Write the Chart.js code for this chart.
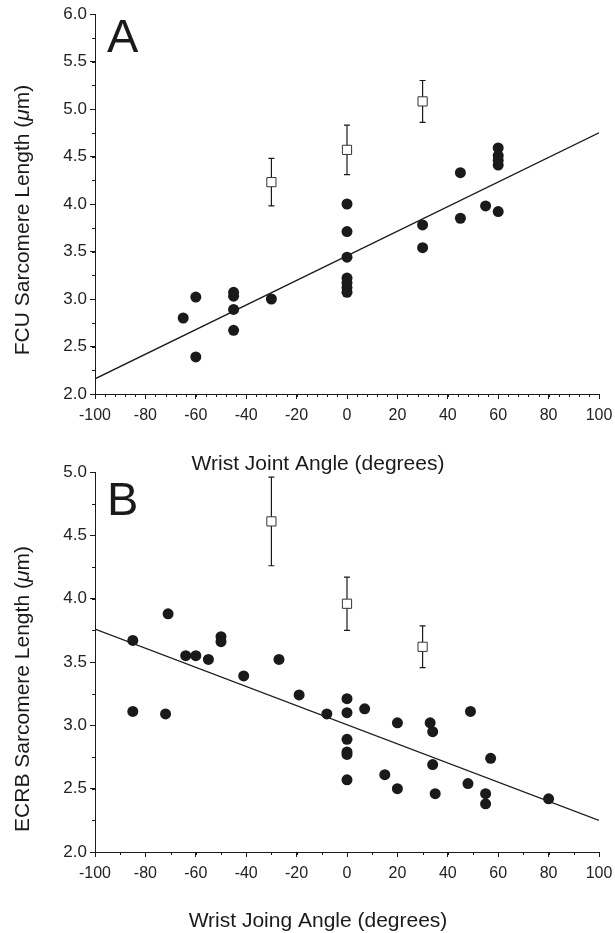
<!DOCTYPE html>
<html>
<head>
<meta charset="utf-8">
<script src="https://cdn.jsdelivr.net/npm/chart.js@4.4.1/dist/chart.umd.min.js"></script>
<style>
	html, body { margin: 0; padding: 0; background: #fff; }
	body { width: 615px; height: 933px; position: relative; overflow: hidden; }
	canvas { position: absolute; left: 0; }
	#panelA { top: 0; }
	#panelB { top: 445px; }
</style>
</head>
<body>
<canvas id="panelA" width="615" height="480"></canvas>
<canvas id="panelB" width="615" height="488"></canvas>
<script>
// Panel A: FCU sarcomere length vs wrist angle
const fcuAngle = [-65, -60, -60, -45, -45, -45, -45, -30, 0, 0, 0, 0, 0, 0, 0, 30, 30, 45, 45, 55, 60, 60, 60, 60, 60]
const fcuLength = [2.80, 3.02, 2.39, 3.07, 3.03, 2.89, 2.67, 3.00, 4.00, 3.71, 3.44, 3.22, 3.17, 3.12, 3.07, 3.78, 3.54, 4.33, 3.85, 3.98, 3.92, 4.59, 4.51, 4.46, 4.41]
const fcuMeanAngle = [-30, 0, 30]
const fcuMean = [4.23, 4.57, 5.08]
const fcuSD = [0.25, 0.26, 0.22]
const fcuFit = [2.16, 4.75]

// Panel B: ECRB sarcomere length vs wrist angle
const ecrbAngle = [-85, -85, -71, -72, -64, -60, -55, -50, -50, -41, -27, -19, -8, 0, 0, 0, 0, 0, 0, 7, 15, 20, 20, 33, 34, 34, 35, 48, 49, 55, 55, 57, 80]
const ecrbLength = [3.67, 3.11, 3.88, 3.09, 3.55, 3.55, 3.52, 3.70, 3.66, 3.39, 3.52, 3.24, 3.09, 3.21, 3.10, 2.89, 2.79, 2.77, 2.57, 3.13, 2.61, 3.02, 2.50, 3.02, 2.95, 2.69, 2.46, 2.54, 3.11, 2.46, 2.38, 2.74, 2.42]
const ecrbMeanAngle = [-30, 0, 30]
const ecrbMean = [4.61, 3.96, 3.62]
const ecrbSD = [0.35, 0.21, 0.165]
const ecrbFit = [3.76, 2.25]

const fitAngle = [-100, 100]
const angleTicks = [-100, -80, -60, -40, -20, 0, 20, 40, 60, 80, 100]
const fcuTicks = [2.0, 2.5, 3.0, 3.5, 4.0, 4.5, 5.0, 5.5, 6.0]
const ecrbTicks = [2.0, 2.5, 3.0, 3.5, 4.0, 4.5, 5.0]

const family = '"Liberation Sans", Arial, Helvetica, sans-serif'
const ink = '#1a1a1a'

Chart.defaults.font.family = family
Chart.defaults.color = ink

const toPoints = (xs, ys) => xs.map((x, i) => ({ x, y: ys[i] }))

// error bars, minor ticks, axis titles and panel letter
const panelPlugin = (cfg) => ({
	id: 'panelExtras',
	beforeDatasetsDraw(chart) {
		const { ctx, scales: { x, y } } = chart
		ctx.save()
		ctx.strokeStyle = ink
		ctx.lineWidth = 1.2
		cfg.meanAngle.forEach((angle, i) => {
			const px = x.getPixelForValue(angle)
			const top = y.getPixelForValue(cfg.mean[i] + cfg.sd[i])
			const bottom = y.getPixelForValue(cfg.mean[i] - cfg.sd[i])
			ctx.beginPath()
			ctx.moveTo(px, top)
			ctx.lineTo(px, bottom)
			ctx.moveTo(px - 3, top)
			ctx.lineTo(px + 3, top)
			ctx.moveTo(px - 3, bottom)
			ctx.lineTo(px + 3, bottom)
			ctx.stroke()
		})
		ctx.restore()
	},
	afterDraw(chart) {
		const { ctx, chartArea, scales: { x, y } } = chart
		ctx.save()
		ctx.strokeStyle = ink
		ctx.lineWidth = 1

		// minor ticks
		ctx.beginPath()
		for (let v = x.min; v <= x.max; v += cfg.xMinor) {
			const px = Math.round(x.getPixelForValue(v)) + 0.5
			ctx.moveTo(px, chartArea.bottom)
			ctx.lineTo(px, chartArea.bottom + 3)
		}
		for (let v = y.min; v <= y.max; v += 0.25) {
			const py = Math.round(y.getPixelForValue(v)) + 0.5
			ctx.moveTo(chartArea.left, py)
			ctx.lineTo(chartArea.left - 3, py)
		}
		ctx.stroke()

		ctx.fillStyle = ink

		// panel letter
		ctx.font = `47px ${family}`
		ctx.textAlign = 'left'
		ctx.textBaseline = 'alphabetic'
		ctx.fillText(cfg.letter, cfg.letterPos[0], cfg.letterPos[1])

		// x axis title
		ctx.font = `21px ${family}`
		ctx.textAlign = 'center'
		ctx.fillText(cfg.xTitle, cfg.xTitlePos[0], cfg.xTitlePos[1])

		// y axis title, with an italic mu
		const parts = [
			[cfg.yTitle + ' (', `21px ${family}`],
			['\u03bc', `italic 21px ${family}`],
			['m)', `21px ${family}`],
		]
		const widths = parts.map(([text, font]) => {
			ctx.font = font
			return ctx.measureText(text).width
		})
		const total = widths.reduce((a, b) => a + b, 0)
		ctx.translate(cfg.yTitlePos[0], cfg.yTitlePos[1])
		ctx.rotate(-Math.PI / 2)
		ctx.textAlign = 'left'
		let offset = -total / 2
		parts.forEach(([text, font], i) => {
			ctx.font = font
			ctx.fillText(text, offset, 0)
			offset += widths[i]
		})
		ctx.restore()
	},
})

const makePanel = (canvasId, cfg) => new Chart(document.getElementById(canvasId), {
	type: 'scatter',
	data: {
		datasets: [
			{
				data: toPoints(cfg.angle, cfg.length),
				pointRadius: 5.5,
				pointBackgroundColor: ink,
				pointBorderWidth: 0,
				order: 1,
			},
			{
				data: toPoints(cfg.meanAngle, cfg.mean),
				pointStyle: 'rect',
				pointRadius: 6.5,
				pointBackgroundColor: '#fff',
				pointBorderColor: '#333',
				pointBorderWidth: 1,
				order: 0,
			},
			{
				data: toPoints(fitAngle, cfg.fit),
				showLine: true,
				pointRadius: 0,
				borderColor: ink,
				borderWidth: 1.3,
				order: 2,
			},
		],
	},
	options: {
		responsive: false,
		animation: false,
		events: [],
		layout: { padding: { top: cfg.plotTop, right: 16, left: 0, bottom: 0 } },
		plugins: { legend: { display: false }, tooltip: { enabled: false } },
		scales: {
			x: {
				type: 'linear',
				min: -100,
				max: 100,
				afterBuildTicks: (scale) => { scale.ticks = angleTicks.map(value => ({ value })) },
				afterFit: (scale) => {
					scale.height = cfg.bottomSpace
					// keep the plot edges fixed; the end labels may overhang
					scale.paddingLeft = 0
					scale.paddingRight = 0
				},
				grid: { drawOnChartArea: false, tickLength: 5, color: ink },
				border: { color: ink, width: 1 },
				ticks: { font: { size: 16 }, color: '#222', padding: 7, maxRotation: 0, autoSkip: false },
			},
			y: {
				type: 'linear',
				min: cfg.yTicks[0],
				max: cfg.yTicks[cfg.yTicks.length - 1],
				afterBuildTicks: (scale) => { scale.ticks = cfg.yTicks.map(value => ({ value })) },
				afterFit: (scale) => {
					scale.width = 95
					scale.paddingTop = 0
					scale.paddingBottom = 0
				},
				grid: { drawOnChartArea: false, tickLength: 5, color: ink },
				border: { color: ink, width: 1 },
				ticks: { font: { size: 17 }, color: '#222', padding: 3, callback: v => v.toFixed(1) },
			},
		},
	},
	plugins: [panelPlugin(cfg)],
})

makePanel('panelA', {
	angle: fcuAngle,
	length: fcuLength,
	meanAngle: fcuMeanAngle,
	mean: fcuMean,
	sd: fcuSD,
	fit: fcuFit,
	yTicks: fcuTicks,
	xMinor: 4,
	plotTop: 14,
	bottomSpace: 86,
	letter: 'A',
	letterPos: [107, 52],
	xTitle: 'Wrist Joint Angle (degrees)',
	xTitlePos: [318, 470],
	yTitle: 'FCU Sarcomere Length',
	yTitlePos: [29, 220],
})

makePanel('panelB', {
	angle: ecrbAngle,
	length: ecrbLength,
	meanAngle: ecrbMeanAngle,
	mean: ecrbMean,
	sd: ecrbSD,
	fit: ecrbFit,
	yTicks: ecrbTicks,
	xMinor: 10,
	plotTop: 27,
	bottomSpace: 81,
	letter: 'B',
	letterPos: [107, 70],
	xTitle: 'Wrist Joing Angle (degrees)',
	xTitlePos: [318, 482],
	yTitle: 'ECRB Sarcomere Length',
	yTitlePos: [29, 244],
})
</script>
</body>
</html>
